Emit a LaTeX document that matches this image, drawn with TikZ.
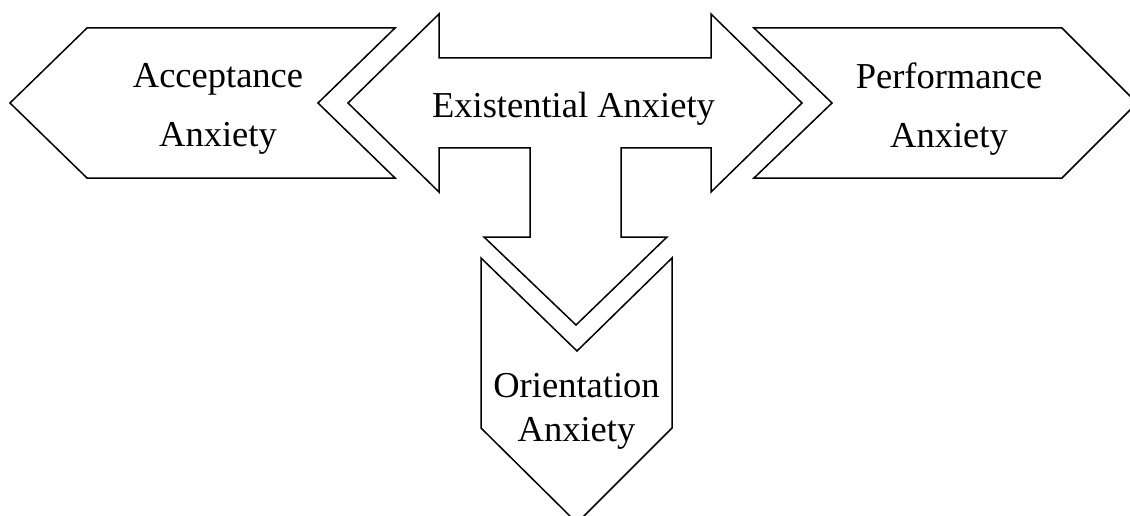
\documentclass[tikz,border=0pt]{standalone}
\usepackage{fontspec}
\setmainfont{Liberation Serif}
\begin{document}
\begin{tikzpicture}[x=1pt,y=-1pt,
  panel/.style={draw=black, line width=1.5pt, line join=miter, fill=white},
  sidelabel/.style={inner sep=0pt, align=center, font=\fontsize{36.5}{59.5}\selectfont},
  downlabel/.style={inner sep=0pt, align=center, font=\fontsize{36.5}{43.4}\selectfont}]
\useasboundingbox (0,0) rectangle (1130,516);
\clip (0,0) rectangle (1130,516);

% left chevron, pointing left
\draw[panel] (10,103) -- (87,28) -- (395,28) -- (318,103) -- (395,178) -- (87,178) -- cycle;

% right chevron, pointing right
\draw[panel] (754,28) -- (1062,28) -- (1137,103) -- (1062,178) -- (754,178) -- (832,103) -- cycle;

% three-way arrow in the middle
\draw[panel] (348,103) -- (439,14) -- (439,58) -- (711,58) -- (711,14) -- (802,103)
  -- (711,192) -- (711,148) -- (621,148) -- (621,237) -- (667,237) -- (576,325)
  -- (484,237) -- (530,237) -- (530,148) -- (439,148) -- (439,192) -- cycle;

% bottom chevron, pointing down
\draw[panel] (481,258) -- (577,351) -- (672,258) -- (672,428) -- (577,523) -- (481,428) -- cycle;

% labels
\node[sidelabel] (acceptance) at (218,109) {Acceptance\\Anxiety};
\node[sidelabel] (performance) at (949,109) {Performance\\Anxiety};
\node[sidelabel, anchor=base] (existential) at (573.5,117.3) {Existential Anxiety};
\node[downlabel] (orientation) at (576.5,411.3) {Orientation\\Anxiety};
\end{tikzpicture}
\end{document}
